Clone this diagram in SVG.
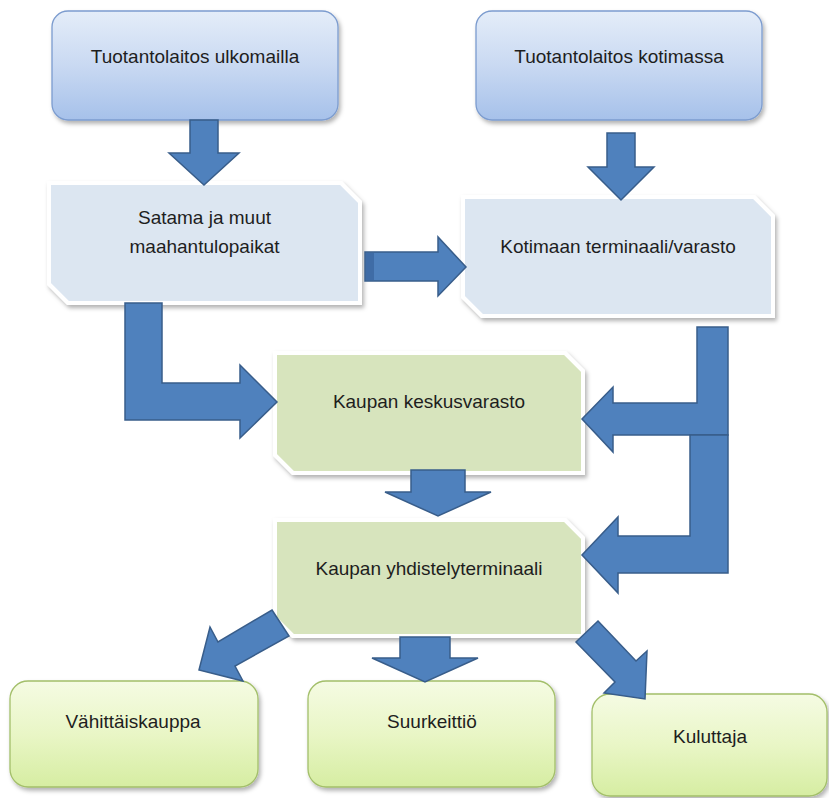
<svg xmlns="http://www.w3.org/2000/svg" width="829" height="798" viewBox="0 0 829 798">
<defs>
  <linearGradient id="gBlue" x1="0" y1="0" x2="0" y2="1">
    <stop offset="0" stop-color="#e4edf9"/>
    <stop offset="0.5" stop-color="#c9d9f2"/>
    <stop offset="1" stop-color="#a6c1ea"/>
  </linearGradient>
  <linearGradient id="gGreen" x1="0" y1="0" x2="0" y2="1">
    <stop offset="0" stop-color="#f5fbe3"/>
    <stop offset="0.5" stop-color="#e9f6c6"/>
    <stop offset="1" stop-color="#d6eda2"/>
  </linearGradient>
  <filter id="sh" x="-10%" y="-10%" width="125%" height="130%">
    <feDropShadow dx="2" dy="3" stdDeviation="2" flood-color="#000" flood-opacity="0.3"/>
  </filter>
</defs>
<style>
  .t { font-family: "Liberation Sans", Arial, sans-serif; font-size: 19px; fill: #1e1e1e; text-anchor: middle; }
  .rb { fill: url(#gBlue); stroke: #7c9ccf; stroke-width: 1.3; filter: url(#sh); }
  .rg { fill: url(#gGreen); stroke: #a3bf6a; stroke-width: 1.3; filter: url(#sh); }
  .sb { fill: #dce6f1; stroke: #ffffff; stroke-width: 4; filter: url(#sh); }
  .sg { fill: #d7e4bd; stroke: #ffffff; stroke-width: 4; filter: url(#sh); }
  .ar { fill: #4f81bd; stroke: #385d8a; stroke-width: 1.5; stroke-linejoin: miter; }
</style>
<rect width="829" height="798" fill="#ffffff"/>

<g id="n-ulkomailla">
  <rect class="rb" x="52" y="11" width="286" height="109" rx="16"/>
  <text class="t" x="195" y="63">Tuotantolaitos ulkomailla</text>
</g>
<g id="n-kotimassa">
  <rect class="rb" x="476" y="11" width="286" height="109" rx="16"/>
  <text class="t" x="619" y="63">Tuotantolaitos kotimassa</text>
</g>
<g id="n-satama">
  <path class="sb" d="M49,183 H341 L360,202 V303 H68 L49,284 Z"/>
  <text class="t" x="204.5" y="224">Satama ja muut</text>
  <text class="t" x="204.5" y="253">maahantulopaikat</text>
</g>
<g id="n-kotimaan">
  <path class="sb" d="M463,197 H754 L773,216 V316 H482 L463,297 Z"/>
  <text class="t" x="618" y="253">Kotimaan terminaali/varasto</text>
</g>
<g id="n-keskusvarasto">
  <path class="sg" d="M275,353 H565 L583,371 V473 H293 L275,455 Z"/>
  <text class="t" x="429" y="408">Kaupan keskusvarasto</text>
</g>
<g id="n-yhdistely">
  <path class="sg" d="M275,520 H565 L583,538 V636 H293 L275,618 Z"/>
  <text class="t" x="429" y="575">Kaupan yhdistelyterminaali</text>
</g>
<g id="n-vahittais">
  <rect class="rg" x="10" y="681" width="248" height="106" rx="18"/>
  <text class="t" x="133" y="728">Vähittäiskauppa</text>
</g>
<g id="n-suurkeittio">
  <rect class="rg" x="308" y="681" width="247" height="106" rx="18"/>
  <text class="t" x="432" y="728">Suurkeittiö</text>
</g>
<g id="n-kuluttaja">
  <rect class="rg" x="592" y="694" width="235" height="102" rx="18"/>
  <text class="t" x="710" y="743">Kuluttaja</text>
</g>

<g id="connectors">
  <path class="ar" d="M190,120 H218 V153 H239 L204,185 L169,153 H190 Z"/>
  <path class="ar" d="M607,133 H635 V167 H654 L621,200 L588,167 H607 Z"/>
  <path class="ar" d="M365,252 H438 V237 L466,267 L438,296 V281 H365 Z"/>
  <rect x="366" y="253" width="8" height="27" fill="#3f6ca6"/>
  <path class="ar" d="M125,303 H162 V383 H240 V365 L277,402 L240,438 V420 H125 Z"/>
  <path class="ar" d="M697,327 H728 V435 H613 V452 L582,419 L613,387 V403 H697 Z"/>
  <path class="ar" d="M690,435 H728 V573 H618 V593 L582,555 L618,517 V536 H690 Z"/>
  <path class="ar" d="M411,470 H465 V492 H491 L438,516 L385,492 H411 Z"/>
  <path class="ar" d="M400,637 H450 V658 H478 L425,682 L372,658 H400 Z"/>
  <path class="ar" d="M272,610 L289,636 L235,666 L243,681 L199,670 L210,627 L218,642 Z"/>
  <path class="ar" d="M598,621 L636,661 L647,651 L645,699 L604,693 L615,682 L576,642 Z"/>
</g>
</svg>
